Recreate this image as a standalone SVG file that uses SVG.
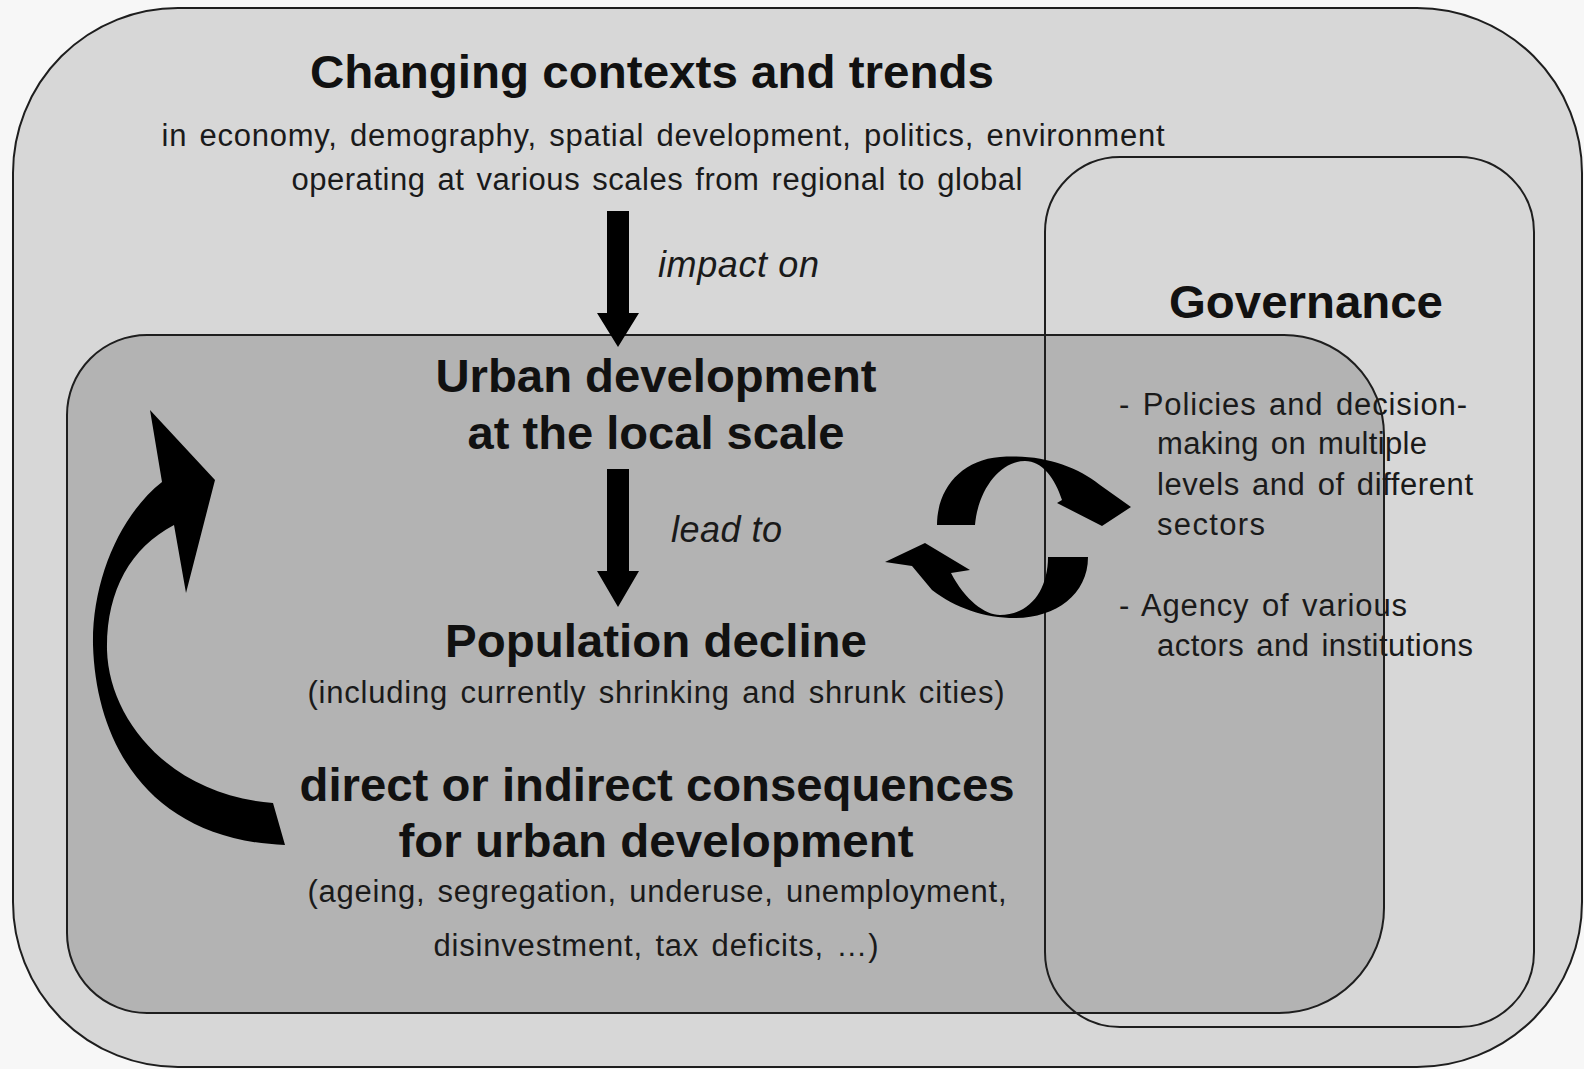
<svg xmlns="http://www.w3.org/2000/svg" width="1584" height="1069" viewBox="0 0 1584 1069">
  <style>
    .frame { stroke: #1e1e1e; stroke-width: 2; }
    .head { font-family: "Liberation Sans", Arial, sans-serif; font-weight: bold; font-size: 46px; fill: #111; text-anchor: middle; }
    .body { font-family: "Liberation Sans", Arial, sans-serif; font-size: 31px; word-spacing: 3px; fill: #1a1a1a; text-anchor: middle; }
    .list { font-family: "Liberation Sans", Arial, sans-serif; font-size: 31px; word-spacing: 3px; fill: #1a1a1a; }
    .verb { font-family: "Liberation Sans", Arial, sans-serif; font-style: italic; font-size: 36px; fill: #1a1a1a; }
    .arrow { fill: #000; }
  </style>

  <rect x="0" y="0" width="1584" height="1069" fill="#f7f7f7"/>

  <!-- outer frame: contexts and trends -->
  <g id="contexts">
    <rect class="frame" x="13" y="8" width="1569" height="1059" rx="165" ry="165" fill="#d7d7d7"/>
    <text class="head" x="652" y="88" textLength="684" lengthAdjust="spacingAndGlyphs">Changing contexts and trends</text>
    <text class="body" x="663" y="146" textLength="1003" lengthAdjust="spacing">in economy, demography, spatial development, politics, environment</text>
    <text class="body" x="657" y="190" textLength="731" lengthAdjust="spacing">operating at various scales from regional to global</text>
  </g>

  <!-- local urban development panel -->
  <g id="local">
    <path class="frame" fill="#b3b3b3" d="M147,335 H1284 A100,100 0 0 1 1384,435 V908 A105,105 0 0 1 1279,1013 H147 A80,80 0 0 1 67,933 V415 A80,80 0 0 1 147,335 Z"/>
    <text class="head" x="656" y="392" textLength="441" lengthAdjust="spacingAndGlyphs">Urban development</text>
    <text class="head" x="656" y="449" textLength="377" lengthAdjust="spacingAndGlyphs">at the local scale</text>
  </g>

  <g id="decline">
    <text class="head" x="656" y="657" textLength="422" lengthAdjust="spacingAndGlyphs">Population decline</text>
    <text class="body" x="656" y="703" textLength="697" lengthAdjust="spacing">(including currently shrinking and shrunk cities)</text>
  </g>

  <g id="consequences">
    <text class="head" x="657" y="801" textLength="715" lengthAdjust="spacingAndGlyphs">direct or indirect consequences</text>
    <text class="head" x="656" y="857" textLength="515" lengthAdjust="spacingAndGlyphs">for urban development</text>
    <text class="body" x="657" y="902" textLength="699" lengthAdjust="spacing">(ageing, segregation, underuse, unemployment,</text>
    <text class="body" x="656" y="956" textLength="445" lengthAdjust="spacing">disinvestment, tax deficits, …)</text>
  </g>

  <!-- governance frame (outline only, overlaps the local panel) -->
  <g id="governance">
    <rect class="frame" x="1045" y="157" width="489" height="870" rx="75" ry="75" fill="none"/>
    <text class="head" x="1306" y="318" textLength="274" lengthAdjust="spacingAndGlyphs">Governance</text>
    <text class="list" x="1119" y="415" textLength="348" lengthAdjust="spacing">- Policies and decision-</text>
    <text class="list" x="1157" y="454" textLength="270" lengthAdjust="spacing">making on multiple</text>
    <text class="list" x="1157" y="495" textLength="316" lengthAdjust="spacing">levels and of different</text>
    <text class="list" x="1157" y="535" textLength="108" lengthAdjust="spacing">sectors</text>
    <text class="list" x="1119" y="616" textLength="288" lengthAdjust="spacing">- Agency of various</text>
    <text class="list" x="1157" y="656" textLength="316" lengthAdjust="spacing">actors and institutions</text>
  </g>

  <g id="connectors">
    <!-- contexts impact on local development -->
    <polygon class="arrow" points="607,211 629,211 629,313 639,313 618,347 597,313 607,313"/>
    <text class="verb" x="658" y="277" textLength="161" lengthAdjust="spacing">impact on</text>
    <!-- local development leads to decline -->
    <polygon class="arrow" points="607,469 629,469 629,571 639,571 618,607 597,571 607,571"/>
    <text class="verb" x="671" y="542" textLength="111" lengthAdjust="spacing">lead to</text>
    <!-- feedback loop from consequences back up -->
    <path class="arrow" d="M150,410 L215,480 L186,593 L174,525 C130,548 106,592 107,650 C109,720 170,795 273,803 L285,845 C150,840 96,745 93,645 C92,580 120,515 162,482 Z"/>
    <!-- two-way exchange with governance -->
    <path class="arrow" d="M937,525 C937,490 960,460 1000,457 C1040,454 1075,465 1100,485 L1131,507 L1102,526 L1057,503 L1062,500 C1055,478 1042,461 1025,461 C1000,461 978,490 975,525 Z"/>
    <path class="arrow" d="M1088,557 C1088,595 1055,618 1015,618 C985,618 955,608 932,590 L912,566 L885,562 L925,543 L970,570 L951,573 C965,600 985,615 1000,615 C1030,615 1048,590 1048,557 Z"/>
  </g>
</svg>
